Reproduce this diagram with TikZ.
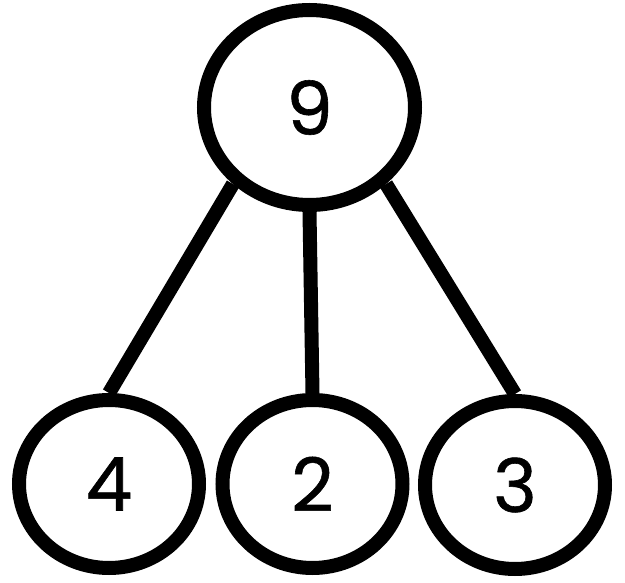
\documentclass[tikz,border=0pt]{standalone}
\usepackage{fontspec}
\newfontfamily\digitfont[FakeBold=0.8]{Poppins}
\usetikzlibrary{shapes.geometric}
\tikzset{
  bubble/.style={draw=black, line width=14pt, ellipse, inner sep=0pt, font=\digitfont\fontsize{74}{74}\selectfont},
  big/.style={bubble, minimum width=211pt, minimum height=195pt},
  small/.style={bubble, minimum width=180pt, minimum height=168pt},
  link/.style={line width=14pt, draw=black}
}
\begin{document}
\begin{tikzpicture}[x=1pt,y=-1pt]
\useasboundingbox (0,0) rectangle (625,583);
\node[big] (top) at (309.5,107.5) {9};
\node[small] (l) at (109,484) {4};
\node[small] (m) at (312.5,484) {2};
\node[small] (r) at (515,485) {3};
\draw[link] (top.225) -- (l.north);
\draw[link] (top.south) -- (m.north);
\draw[link] (top.-45) -- (r.north);
\end{tikzpicture}
\end{document}
